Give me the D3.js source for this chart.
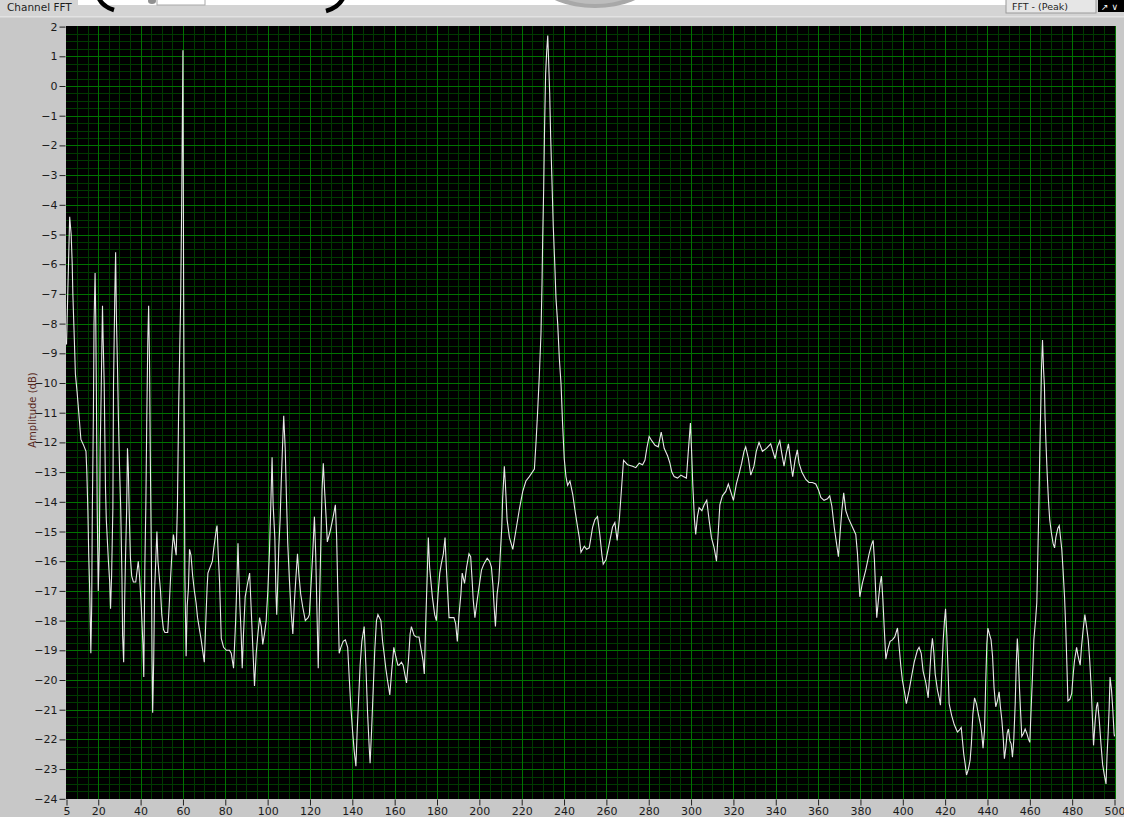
<!DOCTYPE html>
<html>
<head>
<meta charset="utf-8">
<script src="https://cdn.jsdelivr.net/npm/d3@7"></script>
<style>
  html, body { margin: 0; padding: 0; background: #c8c8c8; }
  svg { display: block; }
</style>
</head>
<body>
<svg id="chart" width="1124" height="817"></svg>
<script>
// Channel FFT spectrum: frequency bins (Hz) and peak amplitude (dB)
const freq = [
  5.0, 6.5, 7.2, 7.7, 8.0, 8.5, 8.9, 9.2, 10.0, 10.8, 11.8, 13.1, 14.2, 14.6, 15.1, 15.5, 16.0, 16.5, 16.9, 17.2,
  17.7, 18.0, 18.5, 18.8, 19.1, 19.5, 20.0, 20.5, 20.9, 21.4, 22.0, 22.3, 22.8, 23.4, 23.8, 24.8, 25.4, 25.8, 26.3, 26.9,
  27.2, 27.8, 28.2, 28.6, 29.1, 29.5, 30.0, 30.6, 31.2, 31.5, 32.0, 32.5, 32.9, 33.4, 33.8, 34.2, 34.6, 35.2, 35.8, 36.6,
  37.7, 38.2, 38.9, 39.5, 40.3, 41.1, 41.5, 42.0, 42.5, 42.9, 43.4, 43.8, 44.2, 44.6, 45.1, 45.4, 45.7, 46.2, 46.6, 47.2,
  47.7, 48.2, 48.8, 49.4, 50.0, 50.8, 51.5, 52.8, 53.5, 54.2, 54.9, 55.5, 56.2, 56.8, 57.4, 58.0, 58.9, 59.4, 60.0, 60.3,
  60.6, 60.9, 61.5, 62.0, 62.6, 63.1, 63.8, 64.6, 65.4, 66.2, 66.9, 68.5, 70.1, 70.7, 71.4, 71.8, 73.9, 74.5, 75.8, 76.1,
  76.5, 77.3, 78.1, 79.2, 80.5, 82.0, 82.8, 83.9, 84.9, 85.5, 86.0, 86.4, 86.9, 87.5, 88.0, 88.6, 89.4, 90.4, 91.5, 92.2,
  93.0, 93.8, 94.6, 95.4, 96.2, 97.0, 97.7, 98.5, 99.3, 100.1, 100.9, 101.5, 102.1, 102.6, 103.4, 103.9, 104.3, 104.8, 105.3, 105.9,
  106.4, 107.0, 107.6, 108.3, 108.9, 109.5, 110.3, 111.1, 111.9, 112.7, 113.4, 114.1, 114.7, 115.6, 116.6, 117.8, 119.1, 119.7, 120.5, 121.3,
  122.1, 122.7, 123.3, 123.9, 124.4, 125.1, 125.7, 126.3, 126.9, 127.6, 128.2, 129.5, 130.7, 132.0, 132.6, 133.2, 133.8, 134.6, 135.7, 136.7,
  137.8, 138.6, 139.3, 140.1, 140.9, 141.7, 142.3, 143.0, 143.7, 144.5, 145.6, 146.4, 147.2, 148.0, 148.4, 149.1, 149.9, 150.6, 151.4, 152.1,
  153.5, 154.3, 155.0, 155.8, 156.6, 157.7, 158.6, 159.6, 160.5, 161.5, 162.1, 163.2, 164.0, 164.8, 165.6, 166.5, 167.3, 167.9, 169.2, 170.3,
  171.5, 172.3, 173.4, 174.0, 174.7, 175.3, 175.9, 176.5, 177.8, 178.9, 179.7, 180.5, 181.3, 182.0, 183.0, 183.8, 184.4, 185.0, 185.7, 186.8,
  188.0, 188.8, 189.6, 190.4, 191.3, 191.9, 193.0, 194.0, 195.1, 195.9, 196.6, 197.1, 197.9, 199.0, 200.1, 201.0, 202.1, 203.7, 204.8, 205.7,
  206.4, 207.0, 207.6, 208.4, 209.2, 210.6, 211.0, 211.8, 212.3, 213.1, 214.2, 215.8, 217.3, 218.9, 220.5, 222.0, 223.6, 226.0, 226.8, 227.5,
  228.3, 229.1, 229.6, 229.9, 230.4, 230.8, 231.3, 231.8, 232.3, 232.7, 233.2, 233.7, 234.3, 234.9, 235.6, 236.2, 237.0, 237.8, 238.6, 239.3,
  240.1, 240.9, 241.7, 242.8, 244.1, 245.3, 246.4, 247.2, 248.0, 249.6, 250.7, 251.9, 253.5, 254.6, 255.8, 256.9, 257.9, 258.5, 259.8, 261.4,
  262.9, 264.0, 265.1, 266.1, 267.3, 268.1, 270.0, 272.4, 273.9, 275.5, 277.1, 278.2, 279.1, 280.2, 281.5, 283.0, 284.5, 285.9, 287.3, 288.9,
  290.0, 290.9, 292.0, 293.6, 295.2, 296.3, 297.8, 298.8, 299.7, 300.2, 300.8, 301.6, 302.2, 303.0, 303.8, 305.1, 306.2, 307.4, 308.5, 309.6,
  310.9, 312.0, 312.9, 313.6, 314.8, 316.4, 317.6, 318.7, 320.0, 321.4, 322.7, 323.9, 325.0, 325.8, 327.1, 328.2, 329.7, 330.8, 332.1, 333.7,
  335.6, 337.6, 339.7, 340.8, 341.9, 342.8, 343.9, 345.0, 346.0, 347.1, 348.0, 349.1, 350.2, 351.0, 352.3, 354.2, 355.7, 357.3, 358.9, 360.2,
  361.3, 362.8, 364.4, 365.5, 366.5, 367.6, 368.7, 369.6, 370.4, 371.2, 372.1, 373.1, 374.3, 376.2, 377.8, 378.6, 379.1, 379.7, 380.9, 382.5,
  384.1, 385.2, 386.0, 386.6, 387.1, 387.7, 388.5, 389.3, 389.9, 390.6, 391.2, 392.0, 392.8, 394.0, 395.1, 396.2, 397.5, 398.3, 399.1, 399.8,
  400.8, 401.7, 403.0, 404.1, 405.4, 406.9, 407.7, 408.7, 409.6, 410.9, 412.0, 412.8, 413.4, 414.0, 414.7, 415.3, 416.4, 417.2, 417.8, 418.4,
  419.1, 419.7, 420.2, 420.8, 421.4, 421.9, 423.1, 424.3, 425.8, 426.6, 427.6, 428.2, 428.8, 429.4, 430.1, 431.0, 431.8, 432.4, 433.1, 433.9,
  434.8, 435.7, 436.7, 437.3, 437.9, 438.6, 439.2, 439.7, 440.2, 440.9, 441.7, 442.4, 443.1, 443.9, 444.7, 445.5, 446.1, 446.8, 447.4, 448.0,
  448.7, 449.3, 449.9, 450.6, 451.2, 451.8, 452.4, 453.1, 453.6, 454.1, 454.5, 455.1, 455.6, 456.2, 457.0, 457.8, 458.6, 459.4, 460.0, 460.6,
  461.3, 461.9, 462.7, 463.3, 463.8, 464.3, 464.7, 465.2, 465.5, 466.0, 466.5, 466.9, 467.2, 467.7, 468.2, 468.8, 469.4, 470.2, 471.0, 471.7,
  472.3, 473.2, 473.9, 474.5, 475.1, 475.7, 476.4, 477.0, 477.5, 478.0, 478.9, 479.8, 480.5, 481.1, 482.1, 482.8, 483.8, 484.4, 485.2, 486.0,
  486.8, 487.6, 488.3, 489.0, 489.6, 490.1, 490.9, 491.5, 492.0, 492.8, 493.6, 494.4, 495.2, 496.0, 496.5, 497.0, 497.5, 497.9, 498.6, 499.2,
  499.8, 500.0
];
const amplitude = [
  -8.7, -4.4, -5.0, -6.0, -7.0, -8.1, -9.0, -9.7, -10.3, -11.0, -11.9, -12.1, -12.3, -13.0, -14.3, -15.8, -17.1, -19.1, -17.5, -14.3,
  -11.1, -8.0, -6.3, -7.7, -10.2, -14.2, -17.0, -15.6, -12.3, -10.2, -7.4, -8.5, -10.0, -13.5, -14.6, -16.0, -16.7, -17.6, -16.5, -14.2,
  -10.1, -7.1, -5.6, -7.9, -9.5, -11.1, -12.7, -14.2, -16.6, -18.5, -19.4, -17.2, -15.8, -14.3, -12.2, -12.9, -14.3, -15.9, -16.5, -16.7,
  -16.7, -16.4, -16.0, -16.5, -17.5, -18.8, -19.9, -16.2, -14.0, -11.3, -8.6, -7.4, -9.2, -12.6, -15.9, -19.3, -21.1, -19.3, -17.0, -15.9,
  -15.0, -16.0, -16.5, -17.0, -17.8, -18.3, -18.4, -18.4, -17.5, -16.5, -15.6, -15.1, -15.5, -15.8, -14.1, -10.7, -7.3, -4.0, 1.2, -6.4,
  -11.5, -16.5, -19.2, -17.5, -16.9, -15.6, -15.8, -16.5, -17.0, -17.4, -17.9, -18.6, -19.4, -18.2, -16.9, -16.4, -16.0, -15.6, -14.9, -14.8,
  -15.5, -16.7, -18.6, -18.9, -19.0, -19.0, -19.1, -19.6, -18.0, -16.65, -15.4, -16.4, -17.5, -18.45, -19.6, -18.45, -17.2, -16.8, -16.4, -17.55,
  -18.9, -20.2, -19.1, -18.45, -17.9, -18.2, -18.8, -18.45, -18.0, -17.0, -15.6, -14.1, -12.5, -14.1, -15.2, -17.0, -17.8, -16.65, -15.5, -14.6,
  -13.4, -12.2, -11.1, -12.2, -13.9, -15.4, -16.65, -17.7, -18.45, -17.3, -16.5, -15.75, -16.4, -17.1, -17.55, -18.0, -17.9, -17.8, -16.8, -15.75,
  -14.5, -15.75, -17.7, -19.6, -17.7, -15.5, -13.6, -12.7, -13.6, -14.5, -15.35, -15.0, -14.6, -14.1, -15.2, -17.2, -19.1, -18.9, -18.7, -18.65,
  -18.9, -20.0, -20.9, -21.7, -22.4, -22.9, -21.7, -20.6, -19.5, -18.7, -18.2, -19.5, -21.1, -22.3, -22.8, -21.7, -20.25, -19.0, -18.0, -17.8,
  -18.0, -18.7, -19.1, -19.6, -20.0, -20.5, -19.7, -18.9, -19.2, -19.5, -19.5, -19.4, -19.5, -19.8, -20.1, -19.35, -18.45, -18.2, -18.5, -18.55,
  -18.55, -18.9, -19.35, -19.8, -18.0, -16.65, -15.2, -16.2, -17.2, -17.8, -18.0, -17.1, -16.4, -16.1, -15.75, -15.2, -16.2, -17.0, -17.9, -17.9,
  -17.9, -18.1, -18.7, -17.8, -17.1, -16.4, -16.75, -16.2, -15.75, -15.85, -16.65, -17.3, -17.9, -17.3, -16.75, -16.3, -16.1, -15.9, -16.0, -16.2,
  -16.8, -17.55, -18.2, -17.1, -16.65, -14.85, -13.9, -12.8, -13.4, -14.6, -15.2, -15.6, -14.95, -14.25, -13.65, -13.3, -13.15, -12.9, -11.95, -11.0,
  -9.8, -8.35, -6.65, -5.2, -3.4, -1.4, 0.4, 1.15, 1.7, 0.9, -0.2, -1.75, -3.2, -4.7, -5.95, -7.15, -8.0, -9.2, -10.05, -11.35,
  -12.55, -13.15, -13.45, -13.3, -13.75, -14.35, -14.85, -15.2, -15.7, -15.5, -15.6, -15.55, -14.85, -14.6, -14.5, -15.1, -15.8, -16.1, -15.95, -15.4,
  -14.85, -14.7, -15.3, -14.6, -13.4, -12.6, -12.75, -12.8, -12.85, -12.7, -12.75, -12.6, -12.2, -11.8, -11.95, -12.1, -12.15, -11.65, -12.2, -12.45,
  -12.7, -13.0, -13.15, -13.2, -13.1, -13.15, -13.2, -12.2, -11.35, -12.2, -13.4, -14.6, -15.1, -14.5, -14.2, -14.3, -14.1, -13.95, -14.6, -15.2,
  -15.55, -16.0, -14.95, -14.1, -13.8, -13.65, -13.4, -13.65, -13.95, -13.4, -13.05, -12.7, -12.3, -12.15, -12.55, -13.1, -12.8, -12.3, -12.0, -12.3,
  -12.2, -12.05, -12.55, -12.15, -11.95, -12.35, -12.8, -12.35, -12.05, -12.7, -13.15, -12.6, -12.25, -12.7, -13.0, -13.25, -13.35, -13.35, -13.4, -13.6,
  -13.85, -13.95, -13.9, -13.8, -14.15, -14.85, -15.4, -15.85, -15.05, -14.3, -13.7, -14.3, -14.55, -14.85, -15.1, -15.75, -16.4, -17.2, -16.75, -16.3,
  -15.75, -15.45, -15.3, -15.95, -16.85, -17.9, -17.3, -16.75, -16.5, -17.3, -18.2, -19.3, -19.0, -18.7, -18.65, -18.55, -18.25, -18.9, -19.55, -20.0,
  -20.4, -20.8, -20.35, -19.9, -19.4, -19.0, -18.9, -19.1, -19.7, -20.1, -20.6, -19.7, -19.0, -18.6, -19.1, -19.8, -20.35, -20.6, -20.85, -19.8,
  -18.65, -18.0, -17.6, -18.5, -19.7, -20.8, -21.2, -21.5, -21.75, -21.7, -21.6, -22.05, -22.5, -22.8, -23.2, -23.0, -22.7, -22.15, -21.15, -20.6,
  -20.8, -21.15, -21.5, -21.8, -22.3, -21.7, -20.0, -18.8, -18.25, -18.45, -18.65, -19.2, -20.25, -20.9, -20.7, -20.4, -20.9, -21.35, -21.9, -22.65,
  -22.25, -21.8, -21.65, -22.05, -22.15, -22.6, -22.05, -20.8, -19.45, -18.6, -19.1, -20.25, -21.0, -21.9, -21.8, -21.65, -21.8, -22.0, -22.1, -21.0,
  -19.8, -18.65, -18.0, -17.4, -15.75, -14.05, -12.35, -10.7, -9.55, -8.55, -9.55, -10.1, -11.15, -12.15, -13.05, -13.95, -14.6, -15.05, -15.4, -15.55,
  -15.2, -14.9, -14.8, -15.2, -15.6, -16.3, -17.2, -18.3, -19.45, -20.7, -20.65, -20.45, -19.8, -19.35, -18.9, -19.2, -19.5, -18.9, -18.3, -17.8,
  -18.2, -18.65, -19.35, -20.25, -21.35, -22.2, -21.35, -20.9, -20.75, -21.35, -22.15, -22.85, -23.2, -23.5, -22.5, -21.8, -20.9, -19.9, -20.35, -21.0,
  -21.8, -21.9
];

// Axis ticks
const xTicks = [5, 20, 40, 60, 80, 100, 120, 140, 160, 180, 200, 220, 240, 260, 280, 300,
                320, 340, 360, 380, 400, 420, 440, 460, 480, 500];
const yTicks = d3.range(2, -25, -1);

const svg = d3.select("#chart");
const W = 1124, H = 817;

const plot = { left: 66, right: 1116, top: 26, bottom: 799 };
const x = d3.scaleLinear().domain([5, 500]).range([66.5, 1114.5]);
const y = d3.scaleLinear().domain([-24, 2]).range([798.8, 26.6]);

// Panel background
svg.append("rect").attr("width", W).attr("height", H).attr("fill", "#c8c8c8");

// Title strip
svg.append("rect").attr("x", 0).attr("y", 0).attr("width", W).attr("height", 16).attr("fill", "#d4d4d4");
svg.append("rect").attr("x", 0).attr("y", 16).attr("width", W).attr("height", 1.5).attr("fill", "#e2e2e2");
svg.append("rect").attr("x", 78).attr("y", 0).attr("width", 928).attr("height", 5).attr("fill", "#ffffff");
// cropped front-panel ornaments along the top edge
const deco = svg.append("g");
deco.append("path").attr("d", "M 98 -4 Q 101 6 114 10").attr("fill", "none").attr("stroke", "#000").attr("stroke-width", 4.5);
deco.append("path").attr("d", "M 344 -4 Q 340 7 326 11").attr("fill", "none").attr("stroke", "#000").attr("stroke-width", 4.5);
deco.append("rect").attr("x", 157).attr("y", -1).attr("width", 48).attr("height", 6).attr("fill", "#fff").attr("stroke", "#a8a8a8");
deco.append("ellipse").attr("cx", 152).attr("cy", 1).attr("rx", 4).attr("ry", 3).attr("fill", "#909090");
deco.append("ellipse").attr("cx", 595).attr("cy", -14).attr("rx", 52).attr("ry", 22).attr("fill", "#a8a8a8");
deco.append("ellipse").attr("cx", 595).attr("cy", -16).attr("rx", 46).attr("ry", 20).attr("fill", "#bdbdbd");

svg.append("text").attr("x", 7).attr("y", 11)
  .attr("font-family", "DejaVu Sans, sans-serif").attr("font-size", 10.5).attr("fill", "#1e1e1e")
  .text("Channel FFT");

// FFT mode selector (top right)
svg.append("rect").attr("x", 1006).attr("y", -2).attr("width", 90).attr("height", 15)
  .attr("fill", "#e6e6e6").attr("stroke", "#9a9a9a");
svg.append("text").attr("x", 1012).attr("y", 10)
  .attr("font-family", "DejaVu Sans, sans-serif").attr("font-size", 9.5).attr("fill", "#1e1e1e")
  .text("FFT - (Peak)");
svg.append("rect").attr("x", 1098).attr("y", -2).attr("width", 26).attr("height", 14).attr("fill", "#000");
svg.append("text").attr("x", 1101).attr("y", 10)
  .attr("font-family", "DejaVu Sans, sans-serif").attr("font-size", 9).attr("fill", "#fff")
  .text("↗ ∨");

// Plot area
svg.append("rect")
  .attr("x", plot.left).attr("y", plot.top)
  .attr("width", plot.right - plot.left).attr("height", plot.bottom - plot.top)
  .attr("fill", "#000");

const grid = svg.append("g").attr("shape-rendering", "crispEdges");

// minor grid: every 5 Hz, every 0.25 dB
const minorX = d3.range(10, 500, 5).filter(v => v % 20 !== 0);
const minorY = d3.range(-24, 2.001, 0.25).filter(v => Math.abs(v - Math.round(v)) > 1e-6);
grid.selectAll("line.mx").data(minorX).join("line")
  .attr("x1", d => Math.round(x(d)) + 0.5).attr("x2", d => Math.round(x(d)) + 0.5)
  .attr("y1", plot.top).attr("y2", plot.bottom)
  .attr("stroke", "#003a00").attr("stroke-width", 1);
grid.selectAll("line.my").data(minorY).join("line")
  .attr("y1", d => Math.round(y(d)) + 0.5).attr("y2", d => Math.round(y(d)) + 0.5)
  .attr("x1", plot.left).attr("x2", plot.right)
  .attr("stroke", "#003a00").attr("stroke-width", 1);

// major grid
const majorX = xTicks.filter(v => v !== 5);
grid.selectAll("line.Mx").data(majorX).join("line")
  .attr("x1", d => Math.round(x(d)) + 0.5).attr("x2", d => Math.round(x(d)) + 0.5)
  .attr("y1", plot.top).attr("y2", plot.bottom)
  .attr("stroke", "#007400").attr("stroke-width", 1);
grid.selectAll("line.My").data(yTicks.filter(v => v !== 2 && v !== -24)).join("line")
  .attr("y1", d => Math.round(y(d)) + 0.5).attr("y2", d => Math.round(y(d)) + 0.5)
  .attr("x1", plot.left).attr("x2", plot.right)
  .attr("stroke", "#007400").attr("stroke-width", 1);

// Axes
const axisFont = "DejaVu Sans, Verdana, sans-serif";
const yAxis = d3.axisLeft(y).tickValues(yTicks).tickSize(6).tickPadding(2).tickFormat(d3.format("d"));
const gy = svg.append("g").attr("transform", `translate(${plot.left - 0.5},0)`).call(yAxis);
gy.select(".domain").remove();
gy.selectAll(".tick line").attr("stroke", "#202020");
gy.selectAll(".tick text").attr("font-family", axisFont).attr("font-size", 11).attr("fill", "#1a1a1a");

const xAxis = d3.axisBottom(x).tickValues(xTicks).tickSize(6).tickPadding(2).tickFormat(d3.format("d"));
const gx = svg.append("g").attr("transform", `translate(0,${plot.bottom + 0.5})`).call(xAxis);
gx.select(".domain").remove();
gx.selectAll(".tick line").attr("stroke", "#202020");
gx.selectAll(".tick text").attr("font-family", axisFont).attr("font-size", 11).attr("fill", "#1a1a1a");

// Y axis title
svg.append("text")
  .attr("transform", "translate(36, 410) rotate(-90)")
  .attr("text-anchor", "middle")
  .attr("font-family", axisFont).attr("font-size", 10).attr("fill", "#5a2a22")
  .text("Amplitude (dB)");

// Spectrum trace
svg.append("clipPath").attr("id", "plotClip").append("rect")
  .attr("x", plot.left).attr("y", plot.top)
  .attr("width", plot.right - plot.left).attr("height", plot.bottom - plot.top);

const points = freq.map((f, i) => [f, amplitude[i]]);
const line = d3.line().x(d => x(d[0])).y(d => y(d[1]));
svg.append("path")
  .datum(points)
  .attr("clip-path", "url(#plotClip)")
  .attr("d", line)
  .attr("fill", "none")
  .attr("stroke", "#e8e8e8")
  .attr("stroke-width", 1.1)
  .attr("stroke-linejoin", "miter");
</script>
</body>
</html>
